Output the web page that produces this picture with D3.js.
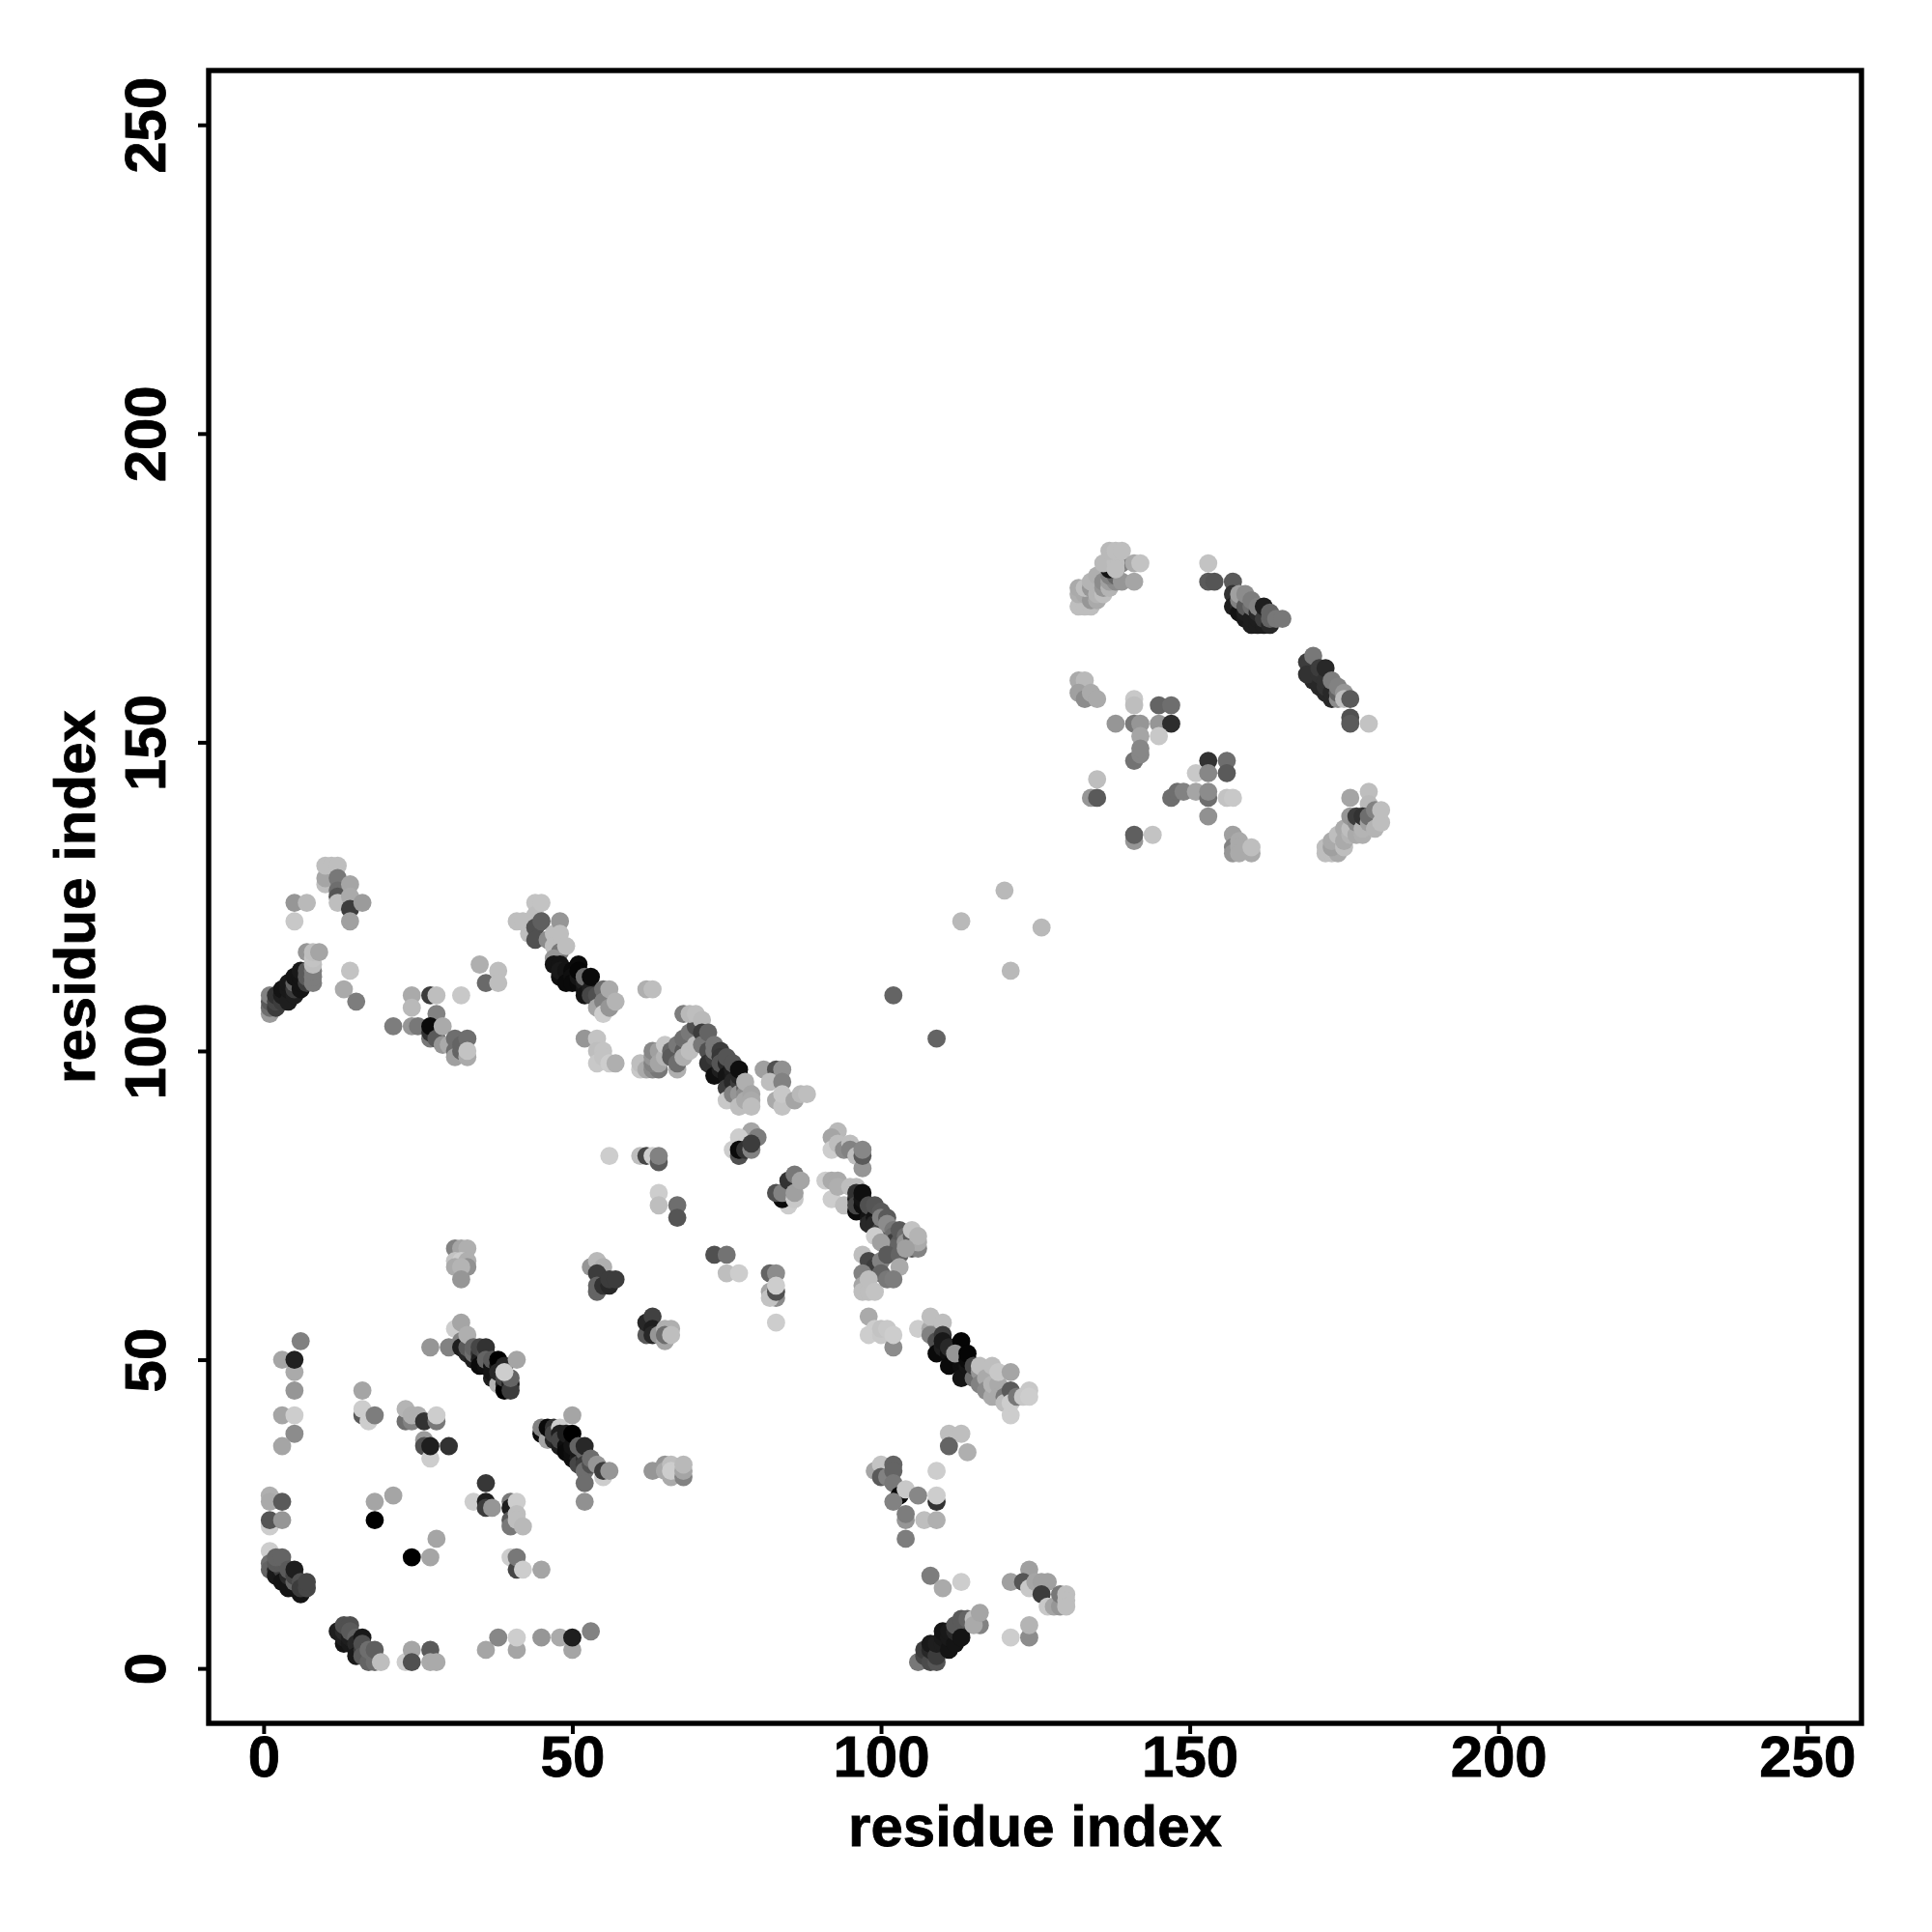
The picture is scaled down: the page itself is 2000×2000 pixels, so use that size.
<!DOCTYPE html>
<html><head><meta charset="utf-8">
<script src="https://cdn.jsdelivr.net/npm/d3@7/dist/d3.min.js"></script>
<style>html,body{margin:0;padding:0;background:#fff}svg{display:block}text{font-family:"Liberation Sans",Arial,sans-serif;font-weight:bold;fill:#000;stroke:#000;stroke-width:0.8px}</style>
</head><body><svg id="c" width="2000" height="2000"></svg>
<script>
// each entry: [residue i, residue j, grey level]
const bottomLeft=[[6,53,128],[3,50,165],[5,48,170],[5,50,32],[5,45,150],[3,41,165],[5,41,205],[5,38,140],[3,36,165],
[1,28,175],[1,27,170],[3,27,90],[1,23,205],[1,24,85],[3,24,150],
[1,19,205],[1,17,110],[1,16,100],[2,16,40],[2,15,25],[3,15,25],[3,16,60],[2,17,90],[3,17,90],[2,18,100],[3,18,100],[3,14,20],[4,14,20],[4,13,20],[5,13,20],[4,15,40],[4,16,90],[5,14,100],[5,15,70],[5,16,30],[6,12,20],[6,14,80],[6,13,60],[7,13,70],[7,14,70]];
const bottomRow=[[12,6,30],[13,4,20],[13,5,30],[13,6,40],[14,4,25],[14,5,30],[13,7,80],[14,7,80],[14,6,90],[15,5,100],[15,3,25],[15,4,40],[15,2,25],[16,5,25],[16,3,60],[16,4,80],[16,2,90],[17,2,90],[17,1,100],[17,3,110],[18,1,110],[18,3,95],[19,1,190],
[23,1,205],[24,3,165],[24,1,80],[27,3,90],[27,1,170],[28,1,170],[36,3,165],[38,5,135],[41,3,165],[41,5,205],[45,5,150],[48,5,170],[50,3,165],[50,5,30],[53,6,130]];
const innerA=[[18,24,0],[18,27,165],[21,28,165],[24,18,0],[27,18,165],[28,21,165],[16,45,165],[16,41,90],[16,42,205],[17,40,205],[18,41,125],
[23,40,110],[23,42,180],[24,40,130],[24,41,175],[25,41,175],[26,40,50],[28,40,120],[28,41,205],[26,37,155],[26,36,80],[27,34,205],[27,36,30],[30,36,50]];
const helixA=[[27,52,150],[30,52,130],[31,55,205],[32,56,165],[32,53,130],[32,52,30],[33,51,40],[33,52,90],[33,54,175],[34,50,30],[34,51,110],[34,52,100],[35,51,50],[35,50,30],[35,49,10],[35,52,70],[36,49,15],[36,51,80],[36,52,50],[36,50,100],[37,47,30],[37,49,15],[37,48,20],[37,50,90],[38,47,30],[38,49,20],[38,50,0],[38,46,180],[39,46,40],[39,49,40],[39,45,0],[38,48,40],[39,47,70],[40,46,30],[40,45,60],[40,47,100],[39,48,205],[41,50,165]];
const helixB=[[45,38,10],[45,39,130],[46,37,165],[46,39,10],[47,37,40],[47,39,50],[47,38,70],[48,39,205],[48,36,30],[48,38,30],[48,37,70],[49,36,15],[49,38,30],[49,35,10],[50,34,15],[50,35,15],[50,36,20],[50,38,0],[51,34,30],[51,35,25],[51,36,100],[51,33,70],[52,34,50],[52,35,100],[52,33,60],[52,36,40],[52,32,110],[53,33,80],[53,34,110],[50,41,165],[55,31,205],[54,33,150],[52,30,110],[52,27,145],[55,32,60],[56,32,150],
[63,32,150],[65,33,150],[65,32,170],[66,31,170],[66,33,190],[66,32,205],[67,32,205],[68,31,130],[68,32,165],[68,33,185]];
const innerB=[[36,30,55],[34,27,205],[36,27,30],[36,26,60],[37,26,150],[40,27,120],[40,26,30],[41,27,205],[40,24,90],[40,23,120],[41,25,190],[41,24,190],[42,23,185],
[40,18,205],[41,16,70],[41,18,120],[42,16,205],[45,16,165],[31,68,130],[32,68,165],[33,68,175],[31,66,195],[32,66,205],[33,66,175],[31,65,170],[33,65,145],[32,65,180],[32,63,150]];
const midA=[[62,54,90],[62,56,40],[63,57,65],[63,55,30],[63,54,40],[64,54,150],[65,53,165],[65,55,175],[66,55,175],[65,54,110],[66,54,190],
[53,65,150],[54,66,185],[55,65,175],[54,61,100],[54,64,60],[54,62,100],[55,62,50],[56,62,40],[56,63,60],[57,63,60],
[73,67,80],[75,67,115],[75,64,190],[77,64,205],[82,64,100],[83,64,140],[82,61,165],[83,60,140],[82,60,195],[83,61,80],[83,62,205],[83,56,205],
[64,77,205],[64,75,190],[67,75,110],[67,73,85],[56,83,205],[61,83,190],[62,83,70],[63,83,205],[64,82,90],[64,83,130]];
const bridge=[[102,109,100],[109,102,100],[120,126,185],[113,121,185],[126,120,185],[121,113,185]];
const topLeft=[[5,124,150],[7,124,185],[5,121,200],[10,127,190],[10,128,165],[10,130,190],[11,130,190],[12,130,190],[12,128,120],[12,126,110],[12,125,85],[12,124,190],[14,127,165],[14,125,170],[14,123,60],[16,124,155],[14,121,160],
[1,106,155],[1,107,110],[1,108,90],[1,109,130],[2,107,60],[2,108,70],[2,109,50],[3,108,60],[3,109,30],[3,110,20],[4,108,30],[4,110,25],[4,111,25],[5,109,30],[5,110,60],[5,111,100],[5,112,20],[6,110,20],[6,111,20],[6,112,20],[6,113,25],[7,111,60],[7,113,90],[7,112,90],[8,111,125],[8,112,125],[8,113,125],[7,116,150],[8,114,190],[8,115,195],[8,116,190],[9,116,165],
[14,113,195],[13,110,170],[15,108,125]];
const strandA=[[21,104,125],[24,104,150],[25,104,120],[24,109,170],[24,107,185],[27,109,60],[28,109,190],[32,109,200],[28,106,130],[27,102,120],[27,103,50],[27,104,10],[28,102,90],[29,104,170],[29,101,150],[30,101,170],[31,100,110],[31,102,110],[31,99,160],[32,100,100],[32,101,100],[33,102,110],[33,99,170],[33,100,195],
[35,114,175],[36,111,105],[38,113,190],[38,111,190]];
const helixC=[[41,121,190],[42,121,190],[43,119,190],[44,124,195],[44,122,190],[44,120,80],[44,118,80],[45,124,195],[45,121,95],[46,118,140],[47,119,190],[47,117,190],[48,121,150],[48,119,190],[48,116,120],[47,115,150],[47,114,20],[48,114,20],[48,112,15],[48,113,25],[49,113,20],[49,111,10],[49,117,190],[50,113,10],[50,112,15],[50,111,10],[51,111,10],[51,112,20],[51,114,10],[51,113,5],[52,110,20],[52,111,30],[52,109,20],[52,112,110],[53,110,30],[53,109,70],[53,112,10],[54,109,80],[54,107,165],[55,110,110],[55,108,130],[55,106,205],[56,110,170],[56,107,150],[57,108,180],
[62,110,175],[63,110,190],[52,102,150],[54,102,195],[54,100,190],[55,100,195],[54,98,200],[55,99,195],[56,98,205],[57,98,175]];
const helixD=[[61,97,200],[61,98,190],[62,97,170],[63,97,140],[64,97,120],[63,98,130],[63,99,150],[63,100,135],[64,100,160],[64,98,165],[65,99,180],[65,101,200],[66,100,100],[66,99,90],[67,97,175],[67,98,110],[67,101,120],[68,100,90],[68,102,110],[68,99,175],[69,103,120],[69,100,190],[70,104,80],[70,101,190],
[68,106,125],[69,106,185],[70,106,190],[71,105,185],[71,103,60],[71,101,120],[72,103,100],[72,100,80],[72,98,50],[73,99,60],[73,96,15],[73,100,120],[73,101,120],[74,100,60],[74,97,30],[74,99,55],[74,98,85],[75,98,40],[75,96,20],[75,94,60],[75,99,85],[76,96,25],[76,97,30],[76,98,85],[75,92,200],[76,95,40],[76,93,130],[77,95,60],[77,96,40],[77,93,150],[77,91,190],[77,97,15],[78,94,100],[78,93,140],[78,92,170],[78,95,175],[79,93,165],[79,92,170],[79,91,190],
[81,97,160],[83,97,80],[84,97,145],[82,95,190],[84,95,130],[83,92,170],[84,91,195],[84,93,200],[86,92,165],[87,93,185],[88,93,190]];
const helixE=[[79,87,165],[77,86,205],[80,86,125],[76,84,205],[77,83,80],[77,84,10],[78,84,50],[79,84,130],[79,85,60],
[85,75,205],[84,76,10],[83,77,80],[84,77,130],[85,79,50],[86,76,200],[86,77,160],[86,80,120],[87,79,165],
[93,87,185],[92,86,165],[92,84,205],[93,85,190],[94,84,140],[95,85,190],[95,84,130],[96,83,190],[97,81,150],[97,83,90],[97,84,135]];
const helixF=[[91,79,205],[92,79,170],[92,76,205],[93,79,170],[93,78,175],[94,75,190],[95,78,190],[96,78,190],[96,74,10],[96,76,30],[96,77,50],[96,75,70],[97,75,15],[97,76,20],[97,77,15],[98,74,15],[98,73,20],[98,72,40],[98,75,80],[99,73,20],[99,72,40],[99,75,85],[100,71,70],[100,74,90],[100,73,130],[101,73,90],[101,70,90],[101,72,140],[102,71,120],[102,70,110],[102,69,60],[103,69,90],[103,68,70],[103,71,90],[102,68,100],[104,70,110],[104,69,150],[105,70,90],[105,68,90],[105,71,195],[106,68,130],[106,69,170],[106,70,180],
[97,67,190],[98,66,70],[99,70,205],[99,65,60],[100,69,160],[100,66,130],[100,64,100],[101,67,90],[103,67,100],[104,68,160],[103,65,170],[97,64,130],[97,62,165],[97,61,190],[98,61,190],[98,63,190],[99,61,195],[101,63,120],[102,63,125]];
const helixG=[[98,57,170],[98,54,205],[99,55,205],[100,54,200],[100,55,195],[101,55,200],[102,52,140],[102,54,205],[106,55,205],[108,55,170],[108,54,130],[109,53,80],[109,51,10],[108,57,190],[110,56,190],[110,54,60],[110,52,30],[110,53,25],[111,51,15],[112,50,15],[112,52,15],[111,49,10],[111,52,40],[113,49,15],[113,50,15],[113,53,5],[112,51,150],[113,47,20],[114,49,20],[114,50,10],[114,51,5],[115,47,110],[115,49,70],[116,48,150],[116,46,130],[116,49,190],[117,47,170],[117,45,140],[118,44,170],[118,49,190],[118,46,180],[119,46,170],[119,44,170],[119,48,200],[120,44,120],[120,43,190],[121,48,165],[121,45,90],[121,41,205],[121,43,205],[122,44,120],[123,44,200],[124,45,200],[124,44,205]];
const lowerRight=[[111,38,190],[113,38,190],[111,36,100],[114,35,175],[109,32,205],[109,27,50],[109,28,205],[107,24,190],[109,24,175],
[99,32,165],[100,33,195],[100,31,90],[101,31,130],[102,33,100],[102,32,100],[102,30,120],[103,28,10],[102,27,130],[104,29,200],[106,28,135],[104,24,150],[104,25,125],[104,21,125],
[108,15,125],[110,13,170],[113,14,205],[121,14,160],[124,16,160],[123,14,85],[124,13,200],[125,14,165],[126,14,160],[127,14,160],[126,12,60],[127,10,200],[128,10,165],[129,10,150],[129,12,120],[130,12,190],[130,11,190],[130,10,190],
[124,5,140],[124,7,180],[121,5,205],
[106,1,120],[107,2,70],[107,3,60],[108,1,75],[109,1,85],[108,3,40],[108,4,25],[109,2,60],[109,4,30],[110,4,30],[110,5,25],[110,6,20],[111,3,20],[111,5,25],[111,6,25],[112,4,20],[112,6,40],[113,6,40],[113,7,70],[112,7,90],[113,5,20],[113,8,90],[114,8,100],[115,8,190],[116,7,130],[115,7,170],[116,9,165]];
const domainB=[[132,172,190],[133,172,190],[134,172,190],[133,173,190],[132,174,175],[133,174,170],[134,173,150],[132,175,170],[133,175,190],[134,175,150],[135,173,170],[135,175,150],[135,174,180],[134,176,180],[135,177,175],[136,174,190],[136,175,150],[136,176,140],[137,175,180],[137,176,160],[138,176,140],[137,177,130],[138,177,100],[137,178,20],[139,176,150],[136,179,185],[139,179,130],[138,179,190],[138,178,190],[137,181,185],[138,181,190],[139,181,190],[141,179,170],[142,179,195],[141,176,165],
[153,179,195],[153,176,90],[154,176,85],[157,176,90],[157,174,50],[157,172,30],[158,172,40],[158,171,20],[158,173,130],[158,174,160],[159,170,25],[159,171,30],[159,172,90],[159,174,140],[160,169,30],[160,170,30],[160,172,110],[160,173,125],[161,169,30],[161,170,30],[161,171,40],[161,172,130],[162,169,30],[162,170,60],[162,172,30],[163,169,40],[163,170,100],[163,171,100],[164,170,120],[165,170,120],
[170,160,40],[170,161,50],[170,162,50],[169,163,60],[169,161,50],[170,164,120],[171,159,40],[171,161,50],[171,162,60],[172,158,40],[172,159,50],[172,160,50],[172,162,40],[173,157,40],[173,158,40],[173,160,125],[174,157,140],[174,158,100],[174,159,130],[175,158,150],[175,157,190],[176,157,90],[176,154,80],[176,153,90],[179,153,195]];
const domainC=[[132,160,170],[133,160,185],[132,158,160],[133,157,140],[134,158,170],[135,157,170],[141,157,200],[141,156,190],[145,156,100],[147,156,110],[138,153,150],[141,153,120],[142,153,150],[145,153,150],[147,153,45],[142,151,165],[145,151,200],[141,147,115],[142,148,135],[142,149,135],
[153,147,50],[156,147,110],[151,145,200],[153,145,135],[156,145,90],[147,141,110],[148,142,110],[149,142,130],[151,142,165],[153,141,110],[153,142,140],[156,141,195],[157,141,200],[153,138,145],
[135,144,190],[134,141,150],[135,141,90],[141,134,150],[141,135,95],[144,135,195],[157,135,160],[157,133,130],[157,132,150],[158,134,170],[158,133,170],[158,132,170],[160,132,170],[160,133,190],
[176,141,165],[179,142,190],[179,140,185],[172,132,190],[173,132,190],[174,132,170],[172,133,190],[173,133,160],[173,134,170],[174,134,170],[174,135,190],[175,133,190],[175,134,170],[175,136,170],[176,135,180],[176,136,190],[176,138,150],[177,135,170],[177,137,140],[177,138,60],[178,135,175],[178,136,180],[178,138,50],[179,137,160],[179,138,110],[180,136,180],[180,139,130],[181,137,190],[181,139,190]];
const tickValues=[0,50,100,150,200,250];
const axisLabel="residue index";

const clusters=[bottomLeft,bottomRow,innerA,helixA,helixB,innerB,midA,bridge,topLeft,strandA,helixC,helixD,helixE,helixF,helixG,lowerRight,domainB,domainC];
const points=clusters.flat();

const box={l:216,r:1927,t:73,b:1784};
const x=d3.scaleLinear().domain([-8.9,258.8]).range([box.l,box.r]);
const y=d3.scaleLinear().domain([-8.9,258.8]).range([box.b,box.t]);
const svg=d3.select("#c");

svg.append("g").selectAll("circle").data(points).join("circle")
  .attr("cx",d=>x(d[0])).attr("cy",d=>y(d[1])).attr("r",9.4)
  .attr("fill",d=>d3.rgb(d[2],d[2],d[2]));

svg.append("rect").attr("x",box.l).attr("y",box.t).attr("width",box.r-box.l).attr("height",box.b-box.t)
  .attr("fill","none").attr("stroke","#000").attr("stroke-width",5.4);

const ax=svg.append("g").attr("transform",`translate(0,${box.b})`).call(d3.axisBottom(x).tickValues(tickValues).tickSize(11).tickPadding(0));
ax.select(".domain").remove();
ax.selectAll("line").attr("stroke","#000").attr("stroke-width",4);
ax.selectAll("text").attr("y",55).attr("dy",0).style("font-size","60px").attr("text-anchor","middle");

const ay=svg.append("g").attr("transform",`translate(${box.l},0)`).call(d3.axisLeft(y).tickValues(tickValues).tickSize(11).tickPadding(0));
ay.select(".domain").remove();
ay.selectAll("line").attr("stroke","#000").attr("stroke-width",4);
ay.selectAll("text").attr("x",0).attr("dy",0).attr("y",0).style("font-size","60px").attr("text-anchor","middle")
  .attr("transform","translate(-45,0) rotate(-90)");

svg.append("text").attr("x",(box.l+box.r)/2).attr("y",1911).attr("text-anchor","middle").style("font-size","60px").text(axisLabel);
svg.append("text").attr("transform",`translate(98,${(box.t+box.b)/2}) rotate(-90)`).attr("text-anchor","middle").style("font-size","60px").text(axisLabel);
</script></body></html>
